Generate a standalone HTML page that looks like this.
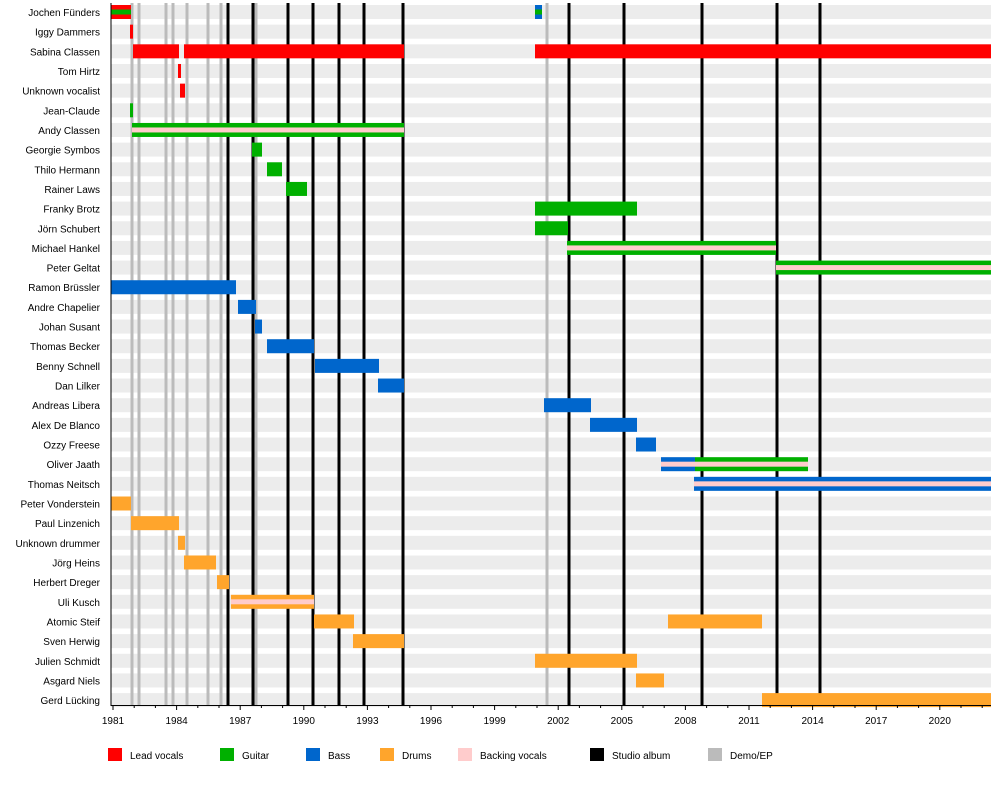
<!DOCTYPE html>
<html><head><meta charset="utf-8"><style>body{margin:0;background:#fff}svg{display:block;font-family:"Liberation Sans",sans-serif}</style></head>
<body>
<svg id="s" width="1000" height="785" xmlns="http://www.w3.org/2000/svg"></svg>
<script>
const S=document.getElementById('s');let h='';
const names=["Jochen Fünders","Iggy Dammers","Sabina Classen","Tom Hirtz","Unknown vocalist","Jean-Claude","Andy Classen","Georgie Symbos","Thilo Hermann","Rainer Laws","Franky Brotz","Jörn Schubert","Michael Hankel","Peter Geltat","Ramon Brüssler","Andre Chapelier","Johan Susant","Thomas Becker","Benny Schnell","Dan Lilker","Andreas Libera","Alex De Blanco","Ozzy Freese","Oliver Jaath","Thomas Neitsch","Peter Vonderstein","Paul Linzenich","Unknown drummer","Jörg Heins","Herbert Dreger","Uli Kusch","Atomic Steif","Sven Herwig","Julien Schmidt","Asgard Niels","Gerd Lücking"];
const R='#ff0000',G='#00b000',B='#0066cc',O='#ffa52c',P='#fcc';
const cy=i=>12+i*19.66;
names.forEach((n,i)=>{const y=cy(i);h+=`<rect x="111" y="${y-7}" width="880" height="14" fill="#ececec"/>`;h+=`<text x="100" y="${y+4}" font-size="10" text-anchor="end" fill="#000">${n}</text>`;});
[132,139,166,173,187,208,221,256,547].forEach(x=>h+=`<rect x="${x-1.5}" y="3" width="3" height="702" fill="#bbb"/>`);
[228,253,288,313,339,364,403,569,624,702,777,820].forEach(x=>h+=`<rect x="${x-1.5}" y="3" width="3" height="702" fill="#000"/>`);
const bars=[[0,111,131,'s',R,G],[0,535,542,'s',B,G],[1,130,133,R],[2,133,179,R],[2,184,404,R],[2,535,991,R],[3,178,181,R],[4,180,185,R],[5,130,133,G],[6,132,404,'s',G,P],[7,252,262,G],[8,267,282,G],[9,286,307,G],[10,535,637,G],[11,535,568,G],[12,567,776,'s',G,P],[13,776,991,'s',G,P],[14,111,236,B],[15,238,256,B],[16,255,262,B],[17,267,314,B],[18,315,379,B],[19,378,404,B],[20,544,591,B],[21,590,637,B],[22,636,656,B],[23,661,695,'s',B,P],[23,695,808,'s',G,P],[24,694,991,'s',B,P],[25,111,131,O],[26,131,179,O],[27,178,185,O],[28,184,216,O],[29,217,229,O],[30,231,314,'s',O,P],[31,314,354,O],[31,668,762,O],[32,353,404,O],[33,535,637,O],[34,636,664,O],[35,762,991,O]];
bars.forEach(b=>{const y=cy(b[0]);if(b[3]==='s'){h+=`<rect x="${b[1]}" y="${y-7}" width="${b[2]-b[1]}" height="14" fill="${b[4]}"/><rect x="${b[1]}" y="${y-2.5}" width="${b[2]-b[1]}" height="5" fill="${b[5]}"/>`}else h+=`<rect x="${b[1]}" y="${y-7}" width="${b[2]-b[1]}" height="14" fill="${b[3]}"/>`;});
h+=`<rect x="110.5" y="3" width="1" height="703" fill="#000"/><rect x="111" y="705" width="880" height="1" fill="#000"/>`;
for(let yr=1981;yr<=2022;yr++){const x=113+(yr-1981)*21.2;const big=(yr-1981)%3==0;h+=`<rect x="${x-0.5}" y="705" width="1" height="${big?5:3}" fill="#000"/>`;if(big)h+=`<text x="${x}" y="724" font-size="10" text-anchor="middle">${yr}</text>`;}
[[108,R,'Lead vocals'],[220,G,'Guitar'],[306,B,'Bass'],[380,O,'Drums'],[458,P,'Backing vocals'],[590,'#000','Studio album'],[708,'#bbb','Demo/EP']].forEach(l=>{h+=`<rect x="${l[0]}" y="748" width="14" height="13" fill="${l[1]}"/><text x="${l[0]+22}" y="759" font-size="10">${l[2]}</text>`;});
S.innerHTML=h;
</script>
</body></html>
